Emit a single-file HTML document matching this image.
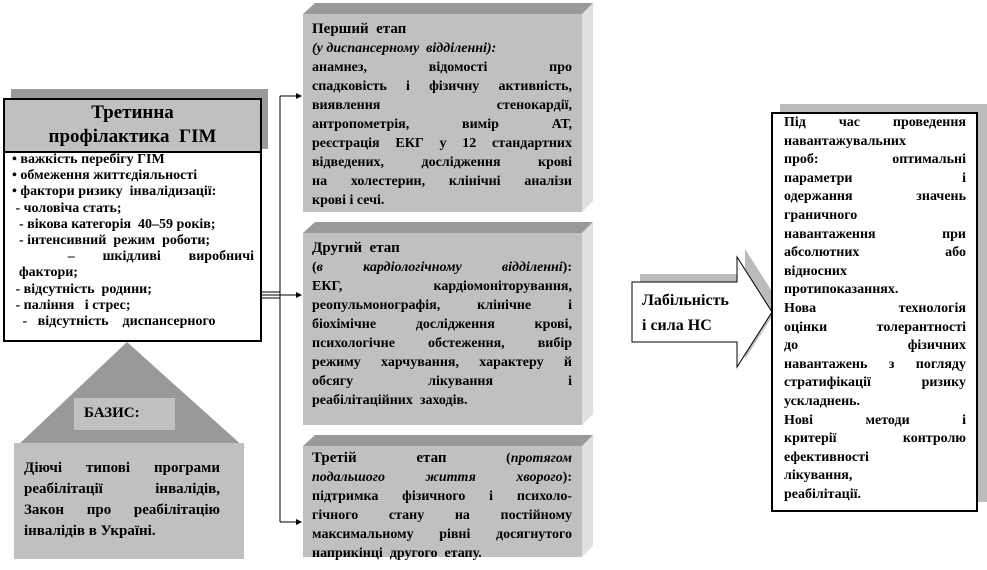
<!DOCTYPE html>
<html><head><meta charset="utf-8"><style>
body{margin:0;width:987px;height:570px;position:relative;background:#fff;overflow:hidden;font-family:"Liberation Serif","DejaVu Serif",serif;font-weight:bold;color:#000}
.a{position:absolute}
.t div{white-space:nowrap}
.j{text-align:justify;text-align-last:justify;white-space:normal!important}
.t{position:absolute;font-size:14px;line-height:19px}
.s{font-size:14px;line-height:16.2px}
.r{font-size:14px;line-height:18.6px}
</style></head><body>
<svg class="a" style="left:0;top:0" width="987" height="570">
<polygon points="303,14 315,3 593,3 582,14" fill="#999"/>
<polygon points="582,14 593,3 593,201 582,212" fill="#e0e0e0"/>
<rect x="303" y="14" width="279" height="198" fill="#c0c0c0"/>
<polygon points="303,233 315,222 593,222 582,233" fill="#999"/>
<polygon points="582,233 593,222 593,414 582,425" fill="#e0e0e0"/>
<rect x="303" y="233" width="279" height="192" fill="#c0c0c0"/>
<polygon points="303,446 315,435 593,435 582,446" fill="#999"/>
<polygon points="582,446 593,435 593,546 582,557" fill="#e0e0e0"/>
<rect x="303" y="446" width="279" height="111" fill="#c0c0c0"/>
<line x1="280" y1="96" x2="280" y2="522" stroke="#000" stroke-width="1"/>
<line x1="280" y1="96" x2="296" y2="96" stroke="#000"/><polygon points="296,93 302,96 296,99" fill="#000"/>
<line x1="280" y1="295" x2="296" y2="295" stroke="#000"/><polygon points="296,292 302,295 296,298" fill="#000"/>
<line x1="280" y1="522" x2="296" y2="522" stroke="#000"/><polygon points="296,519 302,522 296,525" fill="#000"/>
<line x1="258" y1="292" x2="280" y2="292" stroke="#000"/>
<line x1="258" y1="295" x2="280" y2="295" stroke="#000"/>
<line x1="258" y1="298" x2="280" y2="298" stroke="#000"/>
<rect x="11" y="89" width="257" height="60" fill="#999"/>
<rect x="4" y="99" width="257" height="53" fill="#c0c0c0" stroke="#000" stroke-width="2"/>
<rect x="4" y="152" width="257" height="189" fill="#fff" stroke="#000" stroke-width="2"/>
<polygon points="127,342 245,448 15,448" fill="#999"/>
<rect x="74" y="398" width="101" height="32" fill="#c0c0c0"/>
<rect x="14" y="443" width="230" height="116" fill="#c0c0c0"/>
<polygon points="640,274 745,274 745,249 780,304 745,359 745,334 640,334" fill="#bbb"/>
<polygon points="632,282 737,282 737,257 772,312 737,367 737,342 632,342" fill="#fff" stroke="#000" stroke-width="1"/>
<rect x="780" y="104" width="208" height="398" fill="#bbb"/>
<rect x="772" y="113" width="205" height="398" fill="#fff" stroke="#000" stroke-width="2"/>
</svg>

<div class="a" style="left:4px;top:101px;width:257px;text-align:center;font-size:19px;line-height:24px">Третинна<br>профілактика&nbsp; ГІМ</div>
<div class="t s" style="left:12px;top:152px;width:242px">
<div>• важкість перебігу ГІМ</div>
<div>• обмеження життєдіяльності</div>
<div>• фактори ризику&nbsp; інвалідизації:</div>
<div>&nbsp;- чоловіча стать;</div>
<div>&nbsp;&nbsp;- вікова категорія&nbsp; 40–59 років;</div>
<div>&nbsp;&nbsp;- інтенсивний&nbsp; режим&nbsp; роботи;</div>
<div class="j">&nbsp;&nbsp;– шкідливі виробничі</div>
<div>&nbsp;&nbsp;фактори;</div>
<div>&nbsp;- відсутність&nbsp; родини;</div>
<div>&nbsp;- паління&nbsp;&nbsp; і стрес;</div>
<div>&nbsp;&nbsp;&nbsp;-&nbsp;&nbsp; відсутність&nbsp;&nbsp;&nbsp; диспансерного</div>
</div>
<div class="a" style="left:84px;top:405px;font-size:15px">БАЗИС:</div>
<div class="t" style="left:24px;top:458px;width:196px;font-size:15px;line-height:21px">
<div class="j">Діючі типові програми</div>
<div class="j">реабілітації інвалідів,</div>
<div class="j">Закон про реабілітацію</div>
<div>інвалідів в Україні.</div>
</div>

<div class="t" style="left:312px;top:20px;width:260px">
<div style="font-size:15px">Перший&nbsp; етап</div>
<div style="font-style:italic">(у диспансерному&nbsp; відділенні):</div>
<div class="j">анамнез, відомості про</div>
<div class="j">спадковість і фізичну активність,</div>
<div class="j">виявлення стенокардії,</div>
<div class="j">антропометрія, вимір АТ,</div>
<div class="j">реєстрація ЕКГ у 12 стандартних</div>
<div class="j">відведених, дослідження крові</div>
<div class="j">на холестерин, клінічні аналізи</div>
<div>крові і сечі.</div>
</div>
<div class="t" style="left:312px;top:239px;width:260px">
<div style="font-size:15px">Другий&nbsp; етап</div>
<div class="j">(<i>в кардіологічному відділенні</i>):</div>
<div class="j">ЕКГ, кардіомоніторування,</div>
<div class="j">реопульмонографія, клінічне і</div>
<div class="j">біохімічне дослідження крові,</div>
<div class="j">психологічне обстеження, вибір</div>
<div class="j">режиму харчування, характеру й</div>
<div class="j">обсягу лікування і</div>
<div>реабілітаційних&nbsp; заходів.</div>
</div>
<div class="t" style="left:312px;top:449px;width:260px">
<div class="j"><span style="font-size:15px">Третій етап</span> (<i>протягом</i></div>
<div class="j"><i>подальшого життя хворого</i>):</div>
<div class="j">підтримка фізичного і психоло-</div>
<div class="j">гічного стану на постійному</div>
<div class="j">максимальному рівні досягнутого</div>
<div>наприкінці&nbsp; другого&nbsp; етапу.</div>
</div>

<div class="a" style="left:642px;top:288px;font-size:16px;line-height:25px">Лабільність<br>і сила НС</div>

<div class="t r" style="left:784px;top:114px;width:182px">
<div class="j">Під час проведення</div>
<div>навантажувальних</div>
<div class="j">проб: оптимальні</div>
<div class="j">параметри і</div>
<div class="j">одержання значень</div>
<div>граничного</div>
<div class="j">навантаження при</div>
<div class="j">абсолютних або</div>
<div>відносних</div>
<div>протипоказаннях.</div>
<div class="j">Нова технологія</div>
<div class="j">оцінки толерантності</div>
<div class="j">до фізичних</div>
<div class="j">навантажень з погляду</div>
<div class="j">стратифікації ризику</div>
<div>ускладнень.</div>
<div class="j">Нові методи і</div>
<div class="j">критерії контролю</div>
<div>ефективності</div>
<div>лікування,</div>
<div>реабілітації.</div>
</div>
</body></html>
